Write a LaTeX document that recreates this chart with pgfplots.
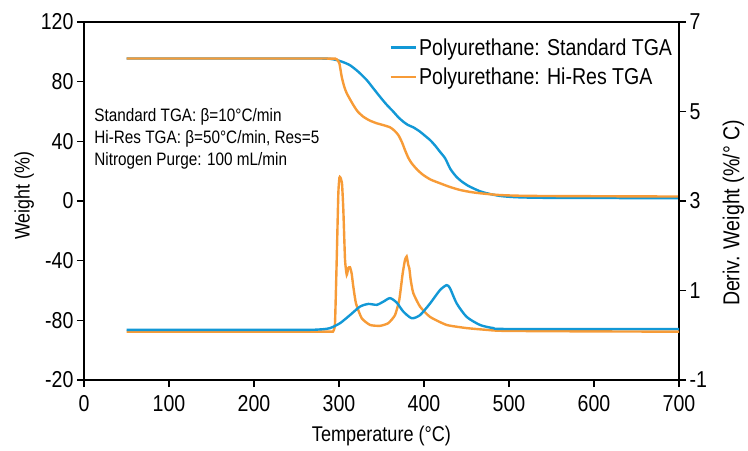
\documentclass[border=0pt]{standalone}
\usepackage{fontspec}
\setmainfont{Liberation Sans}[FakeStretch=0.85]
\usepackage{pgfplots}
\pgfplotsset{compat=1.18}
\definecolor{cblue}{RGB}{18,152,214}
\definecolor{corange}{RGB}{247,155,55}

\begin{document}
\begin{tikzpicture}
\pgfplotsset{
  common/.style={
    scale only axis, width=595bp, height=358bp,
    xmin=0, xmax=700,
    tick align=outside, major tick length=7bp,
    axis line style={-, line width=1.6bp},
    every tick/.style={black, line width=1.6bp},
    /pgf/number format/assume math mode=true,
    tick label style={font=\fontsize{23bp}{26bp}\selectfont},
  }
}
\begin{axis}[common, name=main,
  ymin=-120, ymax=120,
  xtick={0,100,...,700},
  ytick={-120,-80,...,120},
  yticklabels={-20,-80,-40,0,40,80,120},
  xtick pos=bottom, ytick pos=left,
  xticklabel style={yshift=-5bp},
  xlabel={Temperature (°C)},
  ylabel={Weight (\%)},
  xlabel style={font=\fontsize{21.3bp}{24bp}\selectfont, yshift=-7bp},
  ylabel style={font=\fontsize{21bp}{24bp}\selectfont, xshift=5bp},
  legend style={at={(rel axis cs:0.992,0.96)}, anchor=north east, draw=none, fill=none,
    font=\fontsize{23bp}{26bp}\selectfont, row sep=7bp, inner sep=0pt},
  legend cell align=left,
  legend image code/.code={\draw[#1] (0cm,0cm) -- (0.9cm,0cm);},
]
\addplot[cblue, line width=2.4bp, smooth, tension=0.4] coordinates {
(50,95.5) (200,95.5) (280,95.5) (293,95.0) (303,93.5) (313,91.0) (323,86.5) (332.6,81.1)
(340,75.8) (348.2,69.9) (356,64.6) (363.9,59.9) (370,56.0) (375.6,53.2) (381,51.0) (387.4,49.4)
(395.3,46.5) (401,43.8) (407.1,40.9) (413,37.2) (418.8,33) (425,28.5) (431,21.5) (438,16.3)
(445,12.8) (452,10.2) (458,8.5) (466,6.5) (473.8,5.2) (489.4,3.4) (510,2.5) (550,2.1) (700,1.9)};
\addlegendentry{Polyurethane: Standard TGA}
\addplot[corange, line width=2.4bp, smooth, tension=0.4] coordinates {
(50,95.5) (280,95.5) (294,95.4) (297.3,95.0) (300.4,92.3) (303.2,83.3) (306,77) (309.1,72.2)
(316.8,64.4) (322,60) (328.6,56.5) (336,54) (344.4,52.1) (352,50.9) (360,49.4) (365,47.3)
(369.8,44.2) (374,39.5) (377.6,34.2) (381.5,29) (385.5,25.3) (392,21) (399.2,17.4) (408,14.3)
(418.8,11.9) (430,9.5) (442.4,7.4) (455,6) (465.9,5.2) (489.4,4.0) (530,3.4) (700,3.0)};
\addlegendentry{Polyurethane: Hi-Res TGA}
\node[anchor=north west, align=left, inner sep=0pt,
  font=\fontsize{18bp}{22bp}\selectfont] at (axis cs:12,62.5)
  {Standard TGA: β=10°C/min\\Hi-Res TGA: β=50°C/min, Res=5\\Nitrogen Purge: 100 mL/min};
\end{axis}
\begin{axis}[common,
  ymin=-1, ymax=7,
  axis x line=none, axis y line*=right,
  ytick={-1,1,...,7},
  ylabel={Deriv. Weight (\%/° C)},
  ylabel style={font=\fontsize{23bp}{26bp}\selectfont, xshift=-12bp, yshift=-9bp},
]
\addplot[corange, line width=2.4bp, smooth, tension=0.3] coordinates {
(50,0.08) (250,0.08) (290,0.08) (293.3,0.09) (295.3,0.27) (297.3,1.68) (299.2,3.17) (300.5,3.52)
(301.5,3.53) (303.5,3.40) (305.1,2.80) (307.1,1.68) (309.1,1.35) (310.9,1.50) (312.9,1.52)
(314.9,1.38) (316.8,1.09) (320,0.71) (326.7,0.38) (336.5,0.23) (348.2,0.21) (358,0.27)
(365.9,0.45) (370.9,0.79) (374.9,1.38) (377.6,1.68) (379.6,1.76) (381.5,1.57) (382.7,1.50)
(384.4,1.23) (387.4,0.94) (395.3,0.64) (407.1,0.41) (426.7,0.23) (450.2,0.16) (473.8,0.12)
(489.4,0.10) (550,0.09) (700,0.08)};
\addplot[cblue, line width=2.4bp, smooth, tension=0.4] coordinates {
(50,0.12) (250,0.12) (277.6,0.13) (289.4,0.16) (301.2,0.27) (312.9,0.45) (324.7,0.64)
(334.5,0.70) (344.4,0.68) (352.1,0.75) (360,0.83) (367.9,0.73) (375.6,0.53) (385.5,0.38)
(395.3,0.45) (407.1,0.71) (418.8,1.01) (426.7,1.12) (430.6,1.05) (438.5,0.71) (450.2,0.41)
(465.9,0.23) (481.5,0.16) (500,0.14) (700,0.14)};
\end{axis}
\pgfresetboundingbox
\path[use as bounding box] ([shift={(-84bp,-70bp)}]main.south west) rectangle ([shift={(69bp,22bp)}]main.north east);
\end{tikzpicture}
\end{document}
